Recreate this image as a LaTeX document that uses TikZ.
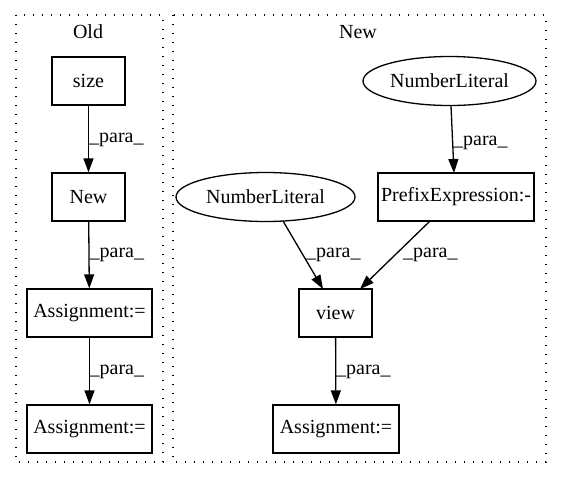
\documentclass[tikz,border=0pt]{standalone}
\usepackage{fontspec}
\setmainfont{Liberation Serif}
\usetikzlibrary{arrows.meta,shapes.geometric}
\begin{document}
\begin{tikzpicture}[x=1pt,y=-1pt,
  every node/.style={font=\fontsize{20}{24}\selectfont},
  box/.style={draw,line width=1.3pt,rectangle,inner sep=0pt,minimum height=48pt},
  oval/.style={draw,line width=1.3pt,ellipse,inner sep=0pt,minimum height=49pt},
  cluster/.style={draw,line width=1.4pt,dash pattern=on 1.4pt off 7.6pt},
  edge/.style={line width=1.3pt,-{Triangle[length=14pt,width=10pt]}},
  lbl/.style={anchor=west,inner sep=0pt,font=\fontsize{20}{24}\selectfont}]
\useasboundingbox (0,0) rectangle (561,480);
\draw[cluster] (16,15) rectangle (163,462);
\draw[cluster] (173,15) rectangle (546,462);
\node (tOld) at (88,32) {Old};
\node (tNew) at (358,32) {New};
% Old
\node[box,minimum width=73pt] (size) at (88.5,81) {size};
\node[box,minimum width=73pt] (new) at (88.5,197) {New};
\node[box,minimum width=125pt] (a1) at (89.5,313) {Assignment:=};
\node[box,minimum width=125pt] (a2) at (89.5,429) {Assignment:=};
\draw[edge] (size) -- (new);
\draw[edge] (new) -- (a1);
\draw[edge] (a1) -- (a2);
\node[lbl] (l1) at (89,140) {\_para\_};
\node[lbl] (l2) at (89.5,255) {\_para\_};
\node[lbl] (l3) at (89.5,372) {\_para\_};
% New
\node[oval,minimum width=173pt] (nl1) at (449.5,81) {NumberLiteral};
\node[box,minimum width=156pt] (pre) at (456,197) {PrefixExpression:-};
\node[oval,minimum width=179pt] (nl2) at (265.5,197) {NumberLiteral};
\node[box,minimum width=73pt] (view) at (335.5,313) {view};
\node[box,minimum width=126pt] (a3) at (336,429) {Assignment:=};
\coordinate (c1) at (451,106);
\coordinate (c2) at (454,173);
\draw[edge] (c1) -- (c2);
\coordinate (c3) at (283,221);
\coordinate (c4) at (323,289);
\draw[edge] (c3) -- (c4);
\coordinate (c5) at (430,221);
\coordinate (c6) at (360,289);
\draw[edge] (c5) -- (c6);
\draw[edge] (view) -- (a3);
\node[lbl] (l4) at (453,143) {\_para\_};
\node[lbl] (l5) at (306,255) {\_para\_};
\node[lbl] (l6) at (403,255) {\_para\_};
\node[lbl] (l7) at (336,372) {\_para\_};
\end{tikzpicture}
\end{document}
